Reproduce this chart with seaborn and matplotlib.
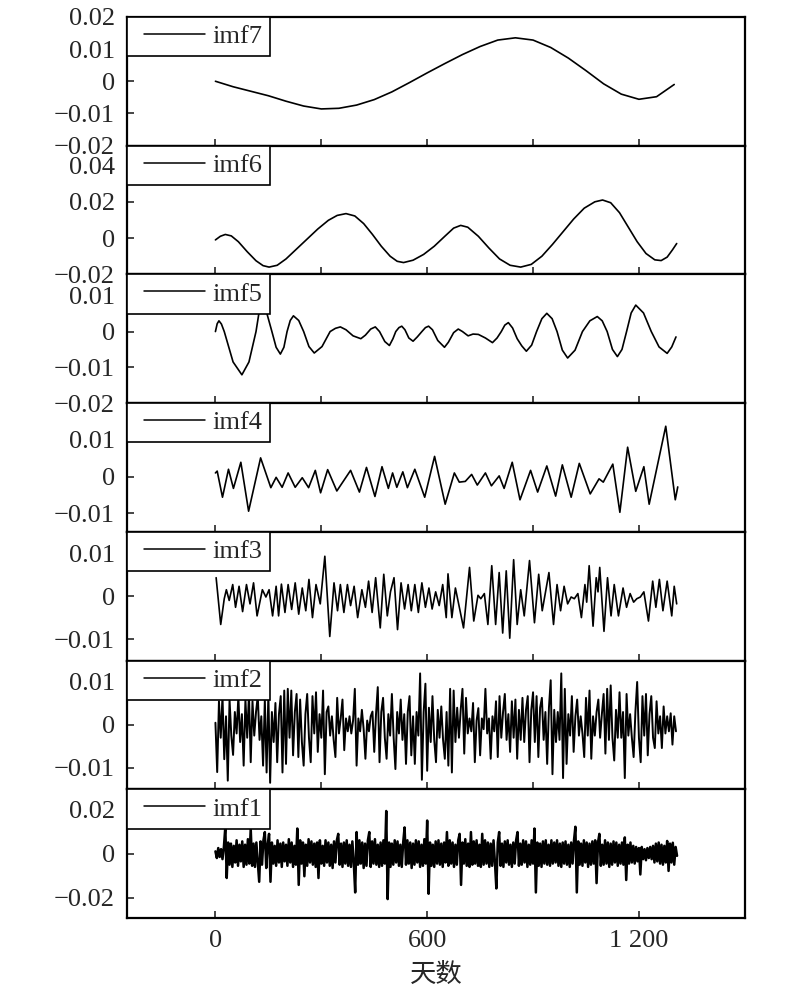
"""
EMD-Zerlegung: sieben IMF-Komponenten untereinander (Tage auf der x-Achse)
"""

import numpy as np
import pandas as pd
import matplotlib

matplotlib.use("Agg")
import matplotlib.pyplot as plt
import seaborn as sns
from matplotlib.legend_handler import HandlerLine2D
from matplotlib.lines import Line2D
from matplotlib.ticker import FuncFormatter

sns.set_style("ticks")
plt.rcParams["font.family"] = ["Liberation Serif", "Noto Sans CJK SC"]
plt.rcParams["axes.unicode_minus"] = True

# Werte in 1e-3
imf7_day = [0, 50, 100, 150, 200, 250, 300, 350, 400, 450, 500, 550, 600, 650,
            700, 750, 800, 850, 900, 950, 1000, 1050, 1100, 1150, 1200, 1250, 1300]
imf7_val = [0.0, -1.7, -3.1, -4.5, -6.2, -7.7, -8.6, -8.4, -7.4, -5.7, -3.3, -0.4, 2.6, 5.5,
            8.3, 10.8, 12.8, 13.5, 12.8, 10.5, 7.2, 3.3, -0.8, -4.0, -5.6, -4.8, -1.0]

imf6_day = [0, 14, 28, 45, 65, 90, 115, 135, 152, 175, 200, 230, 260, 290, 320, 345, 370, 395,
            420, 445, 470, 495, 515, 533, 560, 590, 620, 650, 675, 695, 715, 745, 775, 805,
            835, 865, 895, 925, 955, 985, 1015, 1045, 1075, 1097, 1120, 1145, 1170, 1195,
            1220, 1245, 1263, 1280, 1295, 1307]
imf6_val = [-1.0, 1.0, 2.0, 1.2, -2.0, -7.5, -12.5, -15.2, -16.0, -15.0, -11.5, -6.0, -0.5, 5.0,
            9.8, 12.5, 13.5, 12.2, 8.0, 2.0, -4.5, -10.0, -12.8, -13.5, -12.2, -9.0, -4.5, 1.0,
            5.5, 7.0, 6.0, 1.0, -5.5, -11.5, -15.0, -16.0, -14.5, -10.0, -3.5, 3.5, 10.5, 16.5,
            20.0, 21.0, 19.5, 14.0, 6.0, -2.0, -8.5, -12.0, -12.4, -10.5, -6.5, -3.0]

# imf5 als (Tag, Wert)-Paare
imf5_pts = [
    (0, 0.0), (5, 2.2), (10, 3.0), (17, 2.1), (25, 0.0), (50, -8.5), (75, -12.1), (95, -8.5),
    (115, 0.0), (123, 5.0), (132, 7.0), (146, 5.0), (160, 0.0), (172, -4.4), (184, -6.3),
    (194, -4.4), (203, 0.0), (212, 3.1), (221, 4.4), (236, 3.1), (250, 0.0), (265, -4.2),
    (280, -6.0), (302, -4.2), (325, 0.0), (340, 0.9), (354, 1.3), (370, 0.5), (390, -1.2),
    (412, -2.0), (425, -1.0), (440, 0.7), (453, 1.3), (465, 0.0), (480, -2.8), (493, -3.9),
    (503, -2.0), (511, 0.0), (520, 1.1), (528, 1.5), (537, 0.5), (548, -1.8), (560, -2.7),
    (572, -1.5), (585, 0.0), (595, 1.1), (604, 1.5), (615, 0.5), (630, -2.5), (649, -4.4),
    (660, -3.0), (675, -0.3), (688, 0.7), (700, 0.0), (716, -1.2), (730, -0.7), (745, -0.8),
    (765, -1.8), (785, -3.1), (798, -1.8), (810, 0.0), (820, 1.8), (830, 2.5), (842, 1.0),
    (855, -2.0), (868, -4.0), (881, -5.5), (896, -3.8), (910, 0.0), (925, 3.6), (939, 5.1),
    (954, 3.6), (968, 0.0), (983, -5.2), (998, -7.4), (1019, -5.2), (1040, 0.0), (1061, 3.0),
    (1082, 4.2), (1096, 3.0), (1110, 0.0), (1125, -5.0), (1139, -7.0), (1152, -5.0),
    (1165, 0.0), (1178, 5.2), (1191, 7.4), (1213, 5.2), (1235, 0.0), (1257, -4.3),
    (1280, -6.1), (1293, -4.3), (1305, -1.5),
]
imf5_day = [p[0] for p in imf5_pts]
imf5_val = [p[1] for p in imf5_pts]

imf4_day = [0, 5, 20, 37, 51, 72, 94, 128, 157, 172, 189, 206, 226, 246, 264, 283, 298, 318,
            344, 383, 408, 428, 452, 472, 490, 502, 514, 531, 544, 565, 593, 621, 651, 677, 691,
            708, 726, 742, 765, 782, 804, 818, 841, 863, 893, 913, 939, 964, 983, 1008, 1031,
            1062, 1087, 1099, 1126, 1146, 1168, 1191, 1214, 1229, 1276, 1303, 1310]
imf4_val = [1.0, 1.5, -5.6, 2.0, -3.2, 3.9, -9.4, 5.1, -3.0, -0.2, -2.9, 1.0, -2.9, -0.3, -3.0,
            1.7, -4.4, 1.9, -3.9, 1.7, -4.2, 2.5, -5.4, 2.7, -3.2, 1.0, -2.9, 1.3, -3.0, 2.0,
            -5.6, 5.5, -7.5, 1.0, -1.5, -1.3, 0.6, -2.3, 1.0, -2.5, 0.2, -3.2, 3.9, -6.3, 1.7,
            -4.2, 2.9, -5.3, 3.2, -5.6, 3.6, -4.7, -0.6, -1.5, 3.4, -9.7, 8.0, -4.0, 2.7, -7.5,
            13.7, -6.3, -2.8]

imf3_day = [2, 15, 25, 31, 39, 49, 57, 67, 77, 88, 98, 108, 118, 133, 143, 152, 162, 172, 179,
            187, 197, 206, 216, 226, 236, 246, 256, 265, 275, 285, 297, 310, 324, 336, 346, 354,
            364, 374, 383, 393, 403, 415, 425, 434, 444, 454, 467, 477, 487, 496, 506, 516, 526,
            536, 546, 555, 565, 575, 585, 595, 605, 614, 624, 634, 644, 654, 659, 670, 680, 703,
            720, 732, 744, 752, 762, 772, 783, 794, 804, 814, 824, 834, 845, 855, 865, 875, 890,
            904, 916, 926, 945, 958, 968, 978, 988, 998, 1008, 1017, 1027, 1037, 1047, 1052,
            1059, 1070, 1079, 1084, 1089, 1101, 1111, 1121, 1130, 1142, 1155, 1165, 1175, 1185,
            1194, 1204, 1214, 1227, 1239, 1248, 1258, 1268, 1280, 1293, 1300, 1307]
imf3_val = [4.3, -6.6, -0.6, 1.5, -1.0, 2.7, -2.6, 2.3, -3.6, 2.7, -1.8, 3.1, -4.6, 1.5, -0.2,
            1.5, -4.6, 2.3, -4.6, 2.8, -3.8, 2.7, -3.1, 3.1, -4.2, 1.9, -3.4, 3.9, -5.0, 2.7,
            -1.8, 9.3, -9.4, 3.1, -3.4, 2.7, -3.8, 2.7, -2.2, 2.3, -5.0, 1.5, -2.6, 3.5, -3.8,
            4.3, -7.4, 5.1, -4.6, 1.0, 4.3, -7.8, 3.1, -3.0, 2.7, -3.4, 2.7, -3.8, 3.1, -2.6,
            1.9, -3.0, 1.0, -2.2, 2.7, -5.0, 5.2, -5.0, 1.9, -7.4, 6.7, -5.8, 0.2, -0.6, 0.6,
            -6.6, 7.1, -6.6, 5.5, -8.6, 5.9, -9.8, 8.5, -6.6, 1.5, -4.6, 8.3, -6.2, 5.1, -3.4,
            5.5, -6.6, 2.7, -3.4, 2.3, -1.8, -0.2, -0.6, 0.6, -5.0, 2.7, -1.4, 7.1, -7.0, 4.3,
            1.0, 6.7, -8.2, 4.3, -4.6, 2.7, -4.6, 1.9, -2.6, 0.6, -1.4, -0.6, -0.2, 1.0, -5.8,
            3.5, -2.6, 3.9, -3.4, 3.5, -4.6, 2.3, -1.8]

# imf2: alle 5 Tage ein Wert
imf2_step = 5
imf2_val = [
    0.5, -11.0, 5.5, -3.0, 6.7, -8.0, 2.0, -13.0, 5.9, -2.5,
    -7.0, 3.0, -2.0, 6.7, -4.0, 2.5, -9.5, 5.9, -3.0, 7.2,
    -8.7, 5.5, -2.5, 3.0, 6.7, -3.5, 2.0, -9.5, 5.9, -11.1,
    7.2, -13.5, 3.0, -4.0, 5.1, -8.7, 2.5, 6.7, -11.1, 8.0,
    -9.1, 8.4, -3.0, 8.0, -7.1, 3.0, 7.2, -7.5, 5.9, -4.0,
    -9.5, 2.5, 7.2, -3.0, -8.7, 6.7, -2.0, 7.6, -6.3, 2.5,
    -3.0, 8.0, -11.5, 3.0, 4.3, -2.5, 2.0, -3.5, -7.5, 6.3,
    -2.0, 1.5, 5.9, -5.9, 1.5, -1.5, 2.0, -2.0, 1.0, 8.4,
    -9.5, 1.5, -1.5, 3.5, -1.0, -7.9, 1.0, -1.5, 2.0, 3.1,
    -6.3, 2.5, 8.8, -8.7, 3.0, 6.3, -3.0, -7.9, 2.5, -2.5,
    7.2, -3.0, -10.3, 3.0, -2.0, 5.9, -3.5, 2.5, -9.1, 3.0,
    6.7, -7.1, 2.0, -9.1, 3.0, -2.5, 12.0, -12.8, 3.0, 9.6,
    -10.7, 4.0, -4.0, 6.7, -3.5, -8.7, 3.5, -3.0, 4.3, -3.5,
    -7.9, 3.0, -9.5, 8.4, -11.1, 8.0, -4.0, 4.0, -3.0, 3.5,
    8.4, -6.7, 6.3, -2.0, 1.5, -1.5, 5.1, -8.7, 1.0, 3.9,
    -7.1, 1.5, -1.0, 8.4, -2.0, 1.5, -7.9, 2.0, -1.5, 5.5,
    -7.5, 6.7, -3.0, 3.0, 7.2, -3.5, 2.5, -6.3, 5.5, -3.0,
    5.9, -7.9, 3.5, -3.5, 6.3, -4.0, 3.5, 6.7, -8.7, 3.5,
    7.6, -4.0, 6.7, -7.5, 4.0, 6.3, -3.5, 3.0, -9.1, 4.0,
    10.4, -11.5, 3.5, -4.0, 3.0, -3.5, 12.0, -12.4, 8.4, -9.1,
    2.5, -2.5, 6.7, -6.3, 2.0, 5.9, -2.5, 2.0, -2.0, -7.5,
    6.3, -2.5, 8.0, -7.9, 2.0, -2.5, 3.0, 5.9, -3.0, 2.5,
    7.2, -6.7, 8.4, -3.5, 9.2, -3.0, -8.3, 3.5, -3.0, 7.6,
    -3.0, 3.0, -12.4, 7.2, -2.5, 2.5, -3.0, -7.5, 3.0, 10.0,
    -3.0, -8.7, 6.7, -2.5, 7.2, -7.1, 2.5, 6.7, -3.0, -5.4,
    5.5, -2.0, 2.0, -5.4, 4.3, -2.0, 2.0, -1.5, 2.7, -4.6,
    2.0, -1.5,
]

# imf1: alle 4 Tage ein Wert
imf1_step = 4
imf1_val = [
    1.0, -2.0, 2.5, -1.5, 2.0, -2.5, 3.0, 12.0, -11.0, 5.0,
    -5.0, 4.5, -6.0, 3.5, -4.0, 6.0, -5.5, 4.0, -3.5, 5.5,
    -6.0, 4.0, -5.0, 6.5, -4.5, 11.3, -5.5, 4.5, -6.0, 5.0,
    -4.0, -12.7, 5.5, -5.0, 6.0, 9.7, -6.5, 4.0, 8.9, -12.7,
    5.0, -4.5, 3.5, -5.5, 6.0, -4.0, 4.5, -6.0, 5.0, -3.5,
    4.0, -5.5, 6.5, -4.0, 5.0, -6.0, 3.5, -5.0, 11.3, -14.1,
    6.0, -4.5, 5.0, -10.2, 4.0, -5.5, 6.5, -4.0, 5.5, -5.0,
    4.5, -6.0, 5.0, -11.0, 6.0, -4.5, 3.5, -5.5, 6.0, -4.0,
    5.0, -5.5, 4.0, -6.5, 5.5, -4.0, 6.0, 8.9, -5.0, 4.5,
    -6.0, 5.0, -4.5, 6.0, -5.5, 4.0, -6.0, 5.5, -4.0, -17.5,
    9.7, -5.0, 6.0, -4.5, 5.0, -6.5, 4.5, -5.5, 6.0, 9.7,
    -6.0, 5.5, -4.5, 6.5, -5.0, 4.0, -6.0, 5.0, -5.5, 6.0,
    -4.5, 19.2, -20.5, 5.0, -6.0, 4.5, -5.0, 6.0, -4.0, 5.5,
    -5.5, 4.0, -6.0, 5.0, 11.8, -5.0, 6.0, -4.5, 5.0, -6.5,
    4.5, -5.0, 6.0, -4.0, 5.5, -6.0, 4.0, -5.5, 6.5, -4.5,
    14.9, -18.1, 5.0, -5.5, 4.0, -6.0, 5.5, -4.5, 6.0, -5.0,
    4.5, -6.0, 5.0, -4.0, 9.7, -5.5, 6.0, -4.5, 5.0, -6.0,
    4.0, -5.0, 6.0, 8.9, -14.1, 5.0, -4.5, 6.5, -5.5, 4.5,
    -6.0, 9.7, -5.0, 5.5, -4.5, 6.0, -5.5, 4.0, -6.0, 8.9,
    -5.0, 6.0, -4.5, 5.0, -6.0, 4.5, -5.5, 6.0, -4.0, -15.7,
    5.0, 9.7, -5.5, 4.5, -6.0, 5.5, -4.0, 6.0, -5.0, 4.0,
    -6.0, 5.0, -4.5, 6.0, 9.7, -5.5, 4.5, -5.0, 6.0, -4.0,
    5.5, -6.0, 4.0, -5.0, 6.0, -4.5, 11.3, -17.5, 5.0, -5.5,
    4.5, -6.0, 5.5, -4.5, 6.0, -5.0, 4.0, -5.5, 6.0, -4.5,
    5.0, -4.0, 6.0, -5.5, 4.5, -6.0, 5.0, -4.5, 5.5, -5.0,
    4.0, -6.0, 5.0, -4.5, 6.0, 12.1, -17.5, 5.5, -5.0, 4.5,
    -5.5, 6.0, -4.0, 5.0, -6.0, 4.5, -5.0, 5.5, -4.5, 6.0,
    -13.3, 5.0, 8.9, -5.5, 4.0, -5.0, 6.0, -4.5, 5.0, -6.0,
    4.5, -5.0, 5.5, -4.0, 5.0, -5.5, 4.0, -4.5, 5.0, -5.0,
    7.3, -11.9, 4.0, -4.5, 5.0, -4.0, 3.5, -4.5, 3.0, -3.5,
    2.5, -9.4, 3.0, -2.5, 2.0, -3.0, 2.5, -2.0, 3.0, -2.5,
    3.5, -4.0, 4.5, -3.5, 5.0, -4.5, 4.0, -5.0, 3.5, -4.0,
    5.7, -7.8, 4.5, -4.0, 4.9, -5.0, 3.0, -1.0,
]

# Achsenbereiche, Ticks und Linienstärke je Komponente
panels = [
    ("imf7", imf7_day, imf7_val, (-0.02, 0.02), [-0.02, -0.01, 0, 0.01, 0.02], 1.2),
    ("imf6", imf6_day, imf6_val, (-0.02, 0.051), [-0.02, 0, 0.02, 0.04], 1.2),
    ("imf5", imf5_day, imf5_val, (-0.02, 0.016), [-0.02, -0.01, 0, 0.01], 1.2),
    ("imf4", imf4_day, imf4_val, (-0.015, 0.02), [-0.01, 0, 0.01], 1.2),
    ("imf3", imf3_day, imf3_val, (-0.015, 0.015), [-0.01, 0, 0.01], 1.2),
    ("imf2", list(np.arange(len(imf2_val)) * imf2_step), imf2_val, (-0.015, 0.015),
     [-0.01, 0, 0.01], 1.4),
    ("imf1", list(np.arange(len(imf1_val)) * imf1_step), imf1_val, (-0.029, 0.029),
     [-0.02, 0, 0.02], 1.8),
]


def fmt(v, pos):
    if abs(v) < 1e-12:
        return "0"
    return f"{v:.2f}".replace("-", "\u2212")


def legend_line(legend_handle, orig_handle):
    # Legendenlinie immer dünn, unabhängig von der Datenlinie
    legend_handle.update_from(orig_handle)
    legend_handle.set_linewidth(1.1)


fig, axes = plt.subplots(7, 1, figsize=(8, 9.94))
fig.subplots_adjust(left=0.159, right=0.931, top=0.983, bottom=0.0765, hspace=0)

for ax, (name, days, vals, ylim, yticks, lw) in zip(axes, panels):
    df = pd.DataFrame({"Tag": days, "Wert": np.array(vals) * 1e-3})
    sns.lineplot(data=df, x="Tag", y="Wert", ax=ax, color="black", linewidth=lw,
                 estimator=None, sort=False, label=name)
    ax.set_xlim(-250, 1500)
    ax.set_ylim(*ylim)
    ax.set_yticks(yticks)
    ax.yaxis.set_major_formatter(FuncFormatter(fmt))
    ax.set_xticks([0, 300, 600, 900, 1200])
    ax.set_xticklabels([])
    ax.set_xlabel("")
    ax.set_ylabel("")
    ax.tick_params(direction="in", length=5, width=1.2, labelsize=19, pad=9,
                   top=False, right=False)
    for sp in ax.spines.values():
        sp.set_linewidth(1.6)
        sp.set_color("black")
    handles, labels = ax.get_legend_handles_labels()
    leg = ax.legend(handles, labels, loc="upper left", borderaxespad=0, fancybox=False,
                    edgecolor="black", framealpha=1, fontsize=19, handlelength=2.65,
                    handletextpad=0.27, borderpad=0.3,
                    handler_map={Line2D: HandlerLine2D(xpad=0.34, update_func=legend_line)})
    leg.get_frame().set_linewidth(1.2)

bottom = axes[-1]
bottom.set_xticks([0, 600, 1200])
bottom.set_xticklabels(["0", "600", "1 200"])
bottom.set_xlabel("天数", fontsize=19, family=["Noto Sans CJK SC"], labelpad=6)

fig.savefig("out.png", dpi=100)
